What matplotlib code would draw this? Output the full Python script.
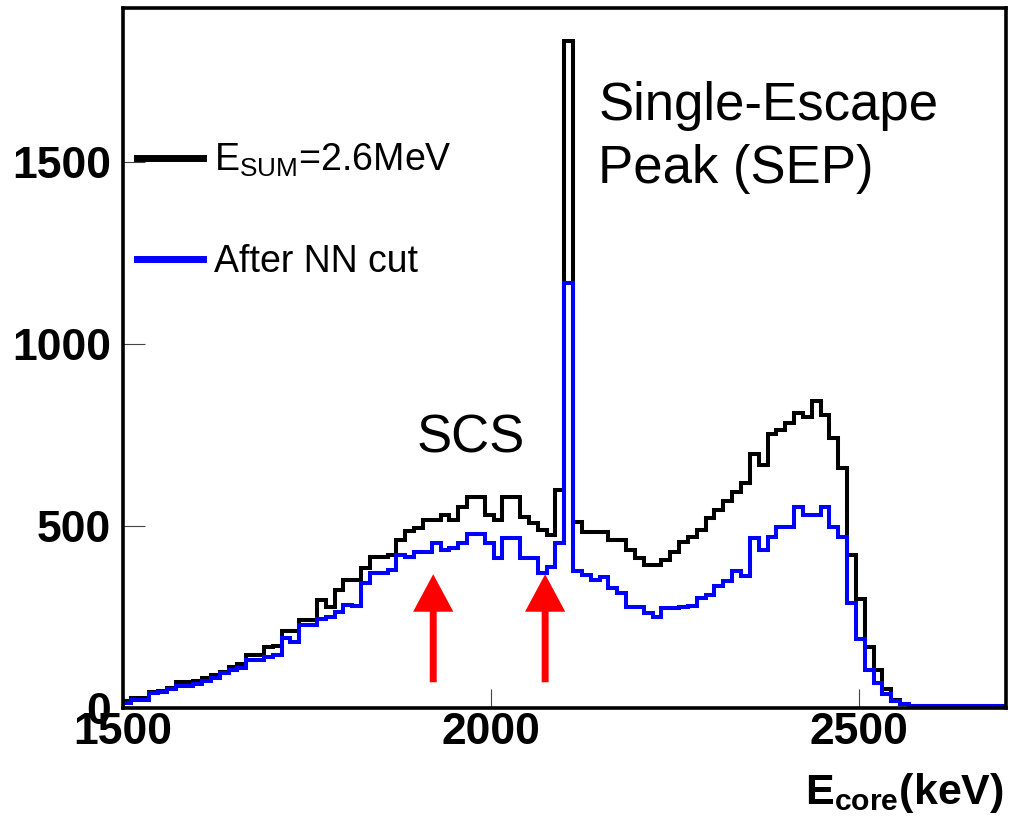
import numpy as np
import matplotlib.pyplot as plt
from matplotlib.lines import Line2D
from matplotlib.patches import FancyArrowPatch

plt.rcParams['font.family'] = 'Liberation Sans'
plt.rcParams['mathtext.fontset'] = 'custom'
plt.rcParams['mathtext.rm'] = 'Liberation Sans'
plt.rcParams['mathtext.bf'] = 'Liberation Sans:bold'

# 12 keV bins from 1500 to 2700 keV
bin_edges = np.arange(1500, 2701, 12)

# counts per bin, E_sum = 2.6 MeV
counts_sum = [18, 27, 28, 45, 47, 56, 70, 70, 75, 82,
              91, 100, 113, 120, 146, 146, 167, 170, 212, 212,
              242, 242, 297, 278, 324, 352, 352, 384, 416, 416,
              420, 462, 487, 495, 516, 516, 530, 516, 553, 580,
              580, 530, 516, 580, 580, 525, 508, 490, 475, 600,
              1832, 510, 484, 484, 484, 461, 461, 434, 411, 393,
              393, 407, 429, 457, 470, 489, 521, 545, 568, 594,
              617, 699, 667, 754, 765, 782, 810, 800, 842, 805,
              741, 660, 420, 300, 168, 105, 52, 22, 10, 5,
              5, 5, 5, 5, 5, 5, 5, 5, 5, 5]

# counts per bin after the NN cut
counts_nn = [15, 22, 22, 40, 43, 53, 61, 61, 66, 75,
             82, 95, 104, 111, 132, 132, 140, 146, 191, 180,
             228, 228, 245, 250, 265, 283, 280, 342, 370, 370,
             380, 420, 415, 429, 429, 452, 434, 440, 452, 478,
             478, 452, 411, 466, 466, 411, 411, 370, 388, 452,
             1168, 375, 365, 352, 360, 330, 315, 278, 278, 260,
             251, 274, 274, 278, 280, 301, 311, 335, 349, 376,
             363, 466, 434, 471, 498, 498, 553, 530, 530, 553,
             498, 470, 289, 190, 104, 68, 38, 20, 10, 5,
             5, 5, 5, 5, 5, 5, 5, 5, 5, 5]

labels = [r'$\mathregular{E_{SUM}}$=2.6MeV', 'After NN cut']
arrow_x = [1922, 2074]

fig = plt.figure(figsize=(10.1, 8.16), dpi=100)
ax = fig.add_axes([0.1213, 0.1324, 0.8748, 0.8578])

ax.stairs(counts_sum, bin_edges, color='black', lw=2.9, baseline=None)
ax.stairs(counts_nn, bin_edges, color='#0000ff', lw=2.9, baseline=None)

ax.set_xlim(1500, 2700)
ax.set_ylim(0, 1923)
ax.set_xticks([1500, 2000, 2500])
ax.set_yticks([0, 500, 1000, 1500])
for lab in ax.get_xticklabels() + ax.get_yticklabels():
    lab.set_fontweight('bold')
    lab.set_fontsize(32)
ax.tick_params(axis='y', direction='in', length=16, width=0.8, color='#444444', pad=8)
ax.tick_params(axis='x', direction='in', length=14, width=0.8, color='#444444', pad=3)
for s in ax.spines.values():
    s.set_linewidth(2.6)

# legend
handles = [Line2D([], [], color='black', lw=5), Line2D([], [], color='#0000ff', lw=5)]
ax.legend(handles, labels, loc='center left', bbox_to_anchor=(137 / 1010, 1 - 211 / 816),
          bbox_transform=fig.transFigure, frameon=False, fontsize=27,
          handlelength=1.75, handletextpad=0.3, labelspacing=1.72,
          borderpad=0, borderaxespad=0)

ax.text(2146, 1722, 'Single-Escape\nPeak (SEP)', fontsize=38, va='top', linespacing=1.32)
ax.text(1900, 808, 'SCS', fontsize=38, va='top')

# red arrows marking the SCS region
for xa in arrow_x:
    arr = FancyArrowPatch((xa, 63), (xa, 375), mutation_scale=1, color='red', lw=0,
                          arrowstyle='simple,head_width=29,head_length=27,tail_width=5')
    ax.add_patch(arr)

fig.text(1004 / 1010, 1 - 804 / 816, r'$\mathbf{E_{core}}$(keV)', fontsize=31,
         fontweight='bold', ha='right', va='baseline')

fig.savefig('out.png', dpi=100)
